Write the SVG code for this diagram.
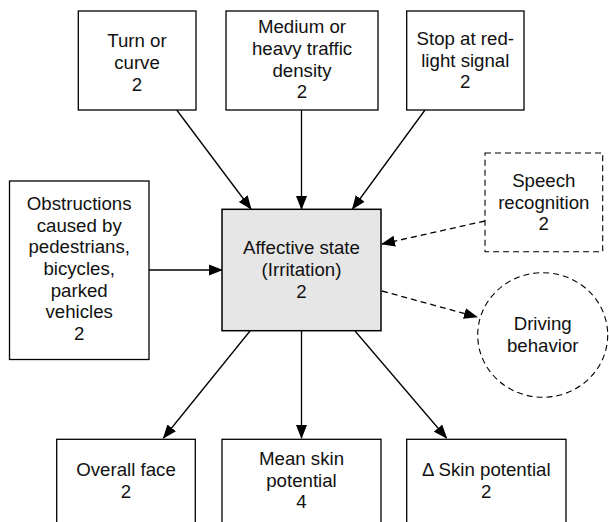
<svg xmlns="http://www.w3.org/2000/svg" width="609" height="522" viewBox="0 0 609 522">
<defs>
<style>
.box{fill:#fff;stroke:#000;stroke-width:1.3}
.dbox{fill:#fff;stroke:#000;stroke-width:1.1;stroke-dasharray:6 4}
.main{fill:#e6e6e6;stroke:#000;stroke-width:1.5}
.t{font-family:"Liberation Sans",Arial,sans-serif;font-size:18.67px;fill:#111;text-anchor:middle}
.c{stroke:#000;stroke-width:1.3;fill:none}
.d{stroke:#000;stroke-width:1.3;fill:none;stroke-dasharray:6 4}
</style>
<marker id="ah" markerUnits="userSpaceOnUse" markerWidth="14" markerHeight="12" refX="13" refY="5.5" orient="auto" viewBox="0 0 14 11">
<path d="M0,0 L14,5.5 L0,11 z" fill="#000"/>
</marker>
</defs>
<rect width="609" height="522" fill="#fff"/>
<g id="connectors">
<line class="c" x1="176.7" y1="110" x2="251" y2="209" marker-end="url(#ah)"/>
<line class="c" x1="301.5" y1="110" x2="301.5" y2="209" marker-end="url(#ah)"/>
<line class="c" x1="425" y1="110" x2="352.5" y2="209" marker-end="url(#ah)"/>
<line class="c" x1="149" y1="270" x2="222" y2="270" marker-end="url(#ah)"/>
<line class="d" x1="485" y1="221" x2="382" y2="244" marker-end="url(#ah)"/>
<line class="d" x1="382" y1="291" x2="477" y2="317" marker-end="url(#ah)"/>
<line class="c" x1="250" y1="331" x2="163.5" y2="438" marker-end="url(#ah)"/>
<line class="c" x1="301.5" y1="331" x2="301.5" y2="438" marker-end="url(#ah)"/>
<line class="c" x1="355" y1="331" x2="446.5" y2="438" marker-end="url(#ah)"/>
</g>
<g id="turn">
<rect class="box" x="78.3" y="11" width="117.7" height="99"/>
<text class="t" x="137" y="47.3">Turn or</text>
<text class="t" x="137" y="69">curve</text>
<text class="t" x="137" y="90.6">2</text>
</g>
<g id="traffic">
<rect class="box" x="226" y="11" width="152" height="99"/>
<text class="t" x="302" y="33.3">Medium or</text>
<text class="t" x="302" y="55">heavy traffic</text>
<text class="t" x="302" y="76.7">density</text>
<text class="t" x="302" y="98.3">2</text>
</g>
<g id="redlight">
<rect class="box" x="406.7" y="11" width="117.3" height="99"/>
<text class="t" x="465.3" y="45">Stop at red-</text>
<text class="t" x="465.3" y="66.7">light signal</text>
<text class="t" x="465.3" y="88.3">2</text>
</g>
<g id="obstructions">
<rect class="box" x="9.5" y="181" width="139.5" height="178.5"/>
<text class="t" x="79.2" y="210">Obstructions</text>
<text class="t" x="79.2" y="231.7">caused by</text>
<text class="t" x="79.2" y="253.3">pedestrians,</text>
<text class="t" x="79.2" y="275">bicycles,</text>
<text class="t" x="79.2" y="296.7">parked</text>
<text class="t" x="79.2" y="318.3">vehicles</text>
<text class="t" x="79.2" y="340">2</text>
</g>
<g id="affective">
<rect class="main" x="222" y="209.3" width="159" height="121.4"/>
<text class="t" x="301.5" y="254.3">Affective state</text>
<text class="t" x="301.5" y="276">(Irritation)</text>
<text class="t" x="301.5" y="297.7">2</text>
</g>
<g id="speech">
<rect class="dbox" x="485" y="153" width="117.7" height="98.7"/>
<text class="t" x="543.8" y="187">Speech</text>
<text class="t" x="543.8" y="208.7">recognition</text>
<text class="t" x="543.8" y="230.3">2</text>
</g>
<g id="driving">
<ellipse class="dbox" cx="542.7" cy="335" rx="65" ry="62.3"/>
<text class="t" x="542.7" y="330">Driving</text>
<text class="t" x="542.7" y="351.7">behavior</text>
</g>
<g id="face">
<rect class="box" x="56.7" y="439.3" width="138.6" height="100"/>
<text class="t" x="126" y="476">Overall face</text>
<text class="t" x="126" y="497.7">2</text>
</g>
<g id="meanskin">
<rect class="box" x="222" y="439.3" width="159" height="100"/>
<text class="t" x="301.5" y="465">Mean skin</text>
<text class="t" x="301.5" y="486.7">potential</text>
<text class="t" x="301.5" y="508.3">4</text>
</g>
<g id="deltaskin">
<rect class="box" x="406.7" y="439.3" width="159.3" height="100"/>
<text class="t" x="486.3" y="476">Δ Skin potential</text>
<text class="t" x="486.3" y="497.7">2</text>
</g>
</svg>
